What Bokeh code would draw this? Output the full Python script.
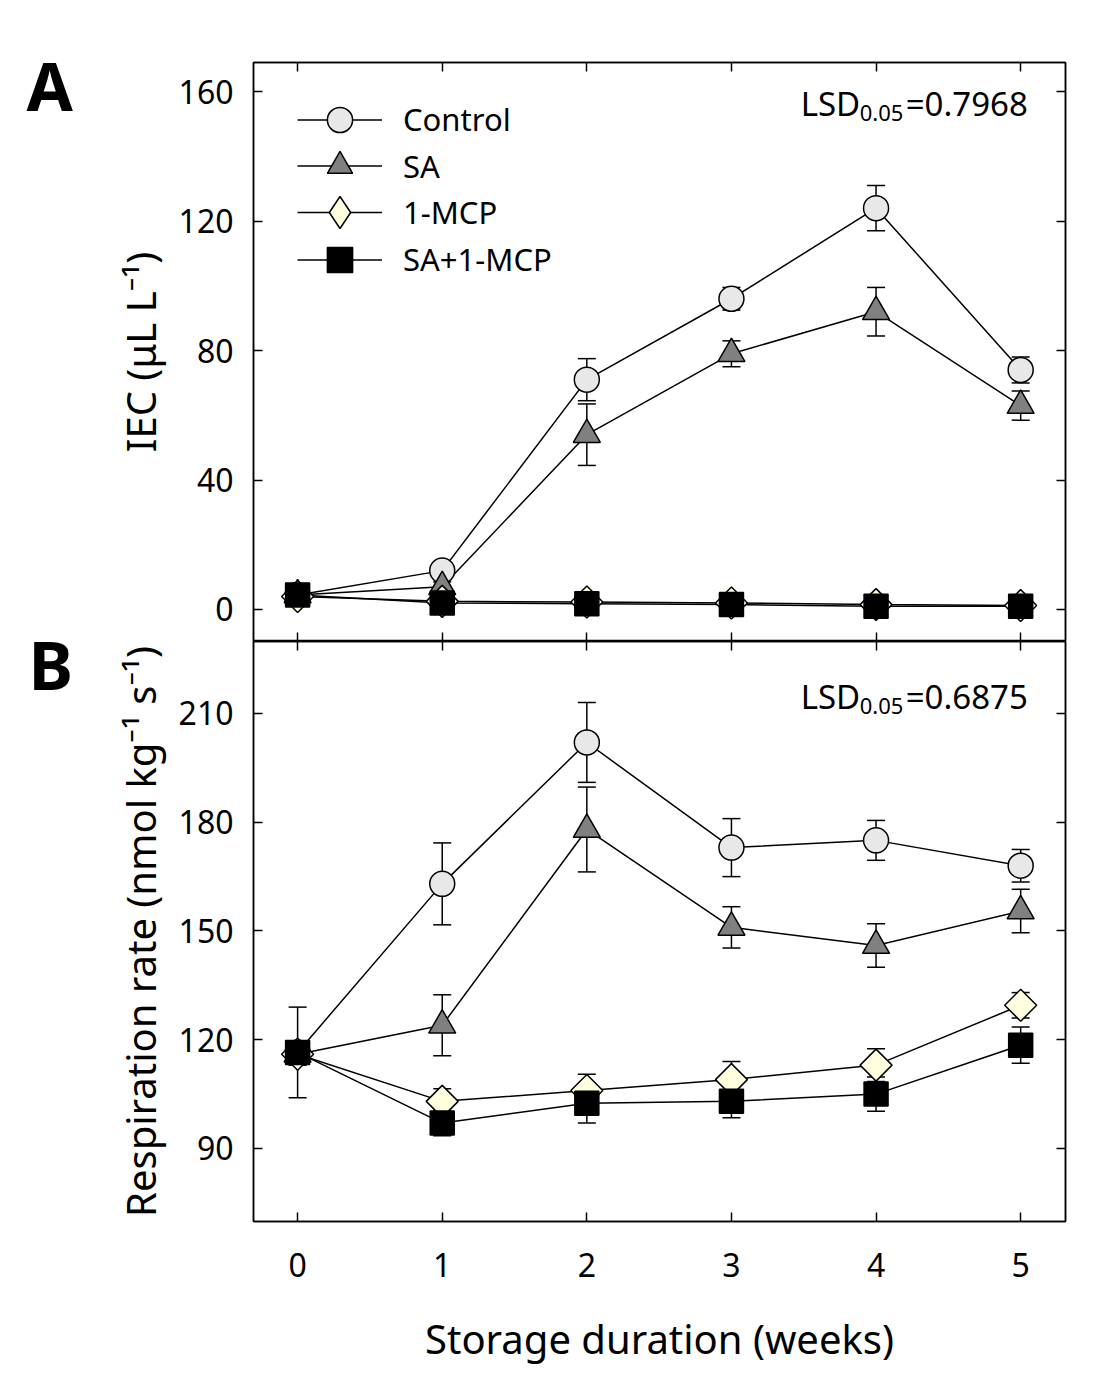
import math
import numpy as np
from bokeh.plotting import figure
from bokeh.models import (ColumnDataSource, Whisker, TeeHead, LinearAxis, FixedTicker,
                          Range1d, Legend, LegendItem, Label)
from bokeh.layouts import column, row
from bokeh.embed import file_html
from bokeh.resources import INLINE

# ---------------- data ----------------
weeks = [0, 1, 2, 3, 4, 5]
treatments = ["Control", "SA", "1-MCP", "SA+1-MCP"]

iec_ticks = [0, 40, 80, 120, 160]
resp_ticks = [90, 120, 150, 180, 210]

iec_control = [4.5, 12.0, 71.0, 96.0, 124.0, 74.0]
iec_control_err = [1.0, 2.0, 6.5, 3.5, 7.0, 4.0]
iec_sa = [4.5, 7.0, 54.0, 79.0, 92.0, 63.0]
iec_sa_err = [1.0, 1.5, 9.5, 4.0, 7.5, 4.5]
iec_mcp = [4.0, 2.5, 2.3, 2.0, 1.5, 1.2]
iec_mcp_err = [0.5, 0.5, 0.5, 0.5, 0.5, 0.5]
iec_samcp = [4.5, 2.0, 1.8, 1.5, 1.0, 1.0]
iec_samcp_err = [0.5, 0.5, 0.5, 0.5, 0.5, 0.5]

resp_control = [116.5, 163.0, 202.0, 173.0, 175.0, 168.0]
resp_control_err = [12.5, 11.3, 11.0, 8.0, 5.5, 4.5]
resp_sa = [116.0, 124.0, 178.0, 151.0, 146.0, 155.5]
resp_sa_err = [3.0, 8.4, 11.7, 5.7, 6.0, 6.0]
resp_mcp = [116.0, 103.0, 106.0, 109.0, 113.0, 129.5]
resp_mcp_err = [3.0, 3.5, 4.5, 5.0, 4.5, 3.5]
resp_samcp = [116.5, 97.0, 102.5, 103.0, 105.0, 118.5]
resp_samcp_err = [3.0, 3.5, 5.5, 4.5, 4.7, 5.0]

lsd_a = "=0.7968"
lsd_b = "=0.6875"

# ---------------- styling ----------------
FONT = "Noto Sans"
XR = (-0.305, 5.31)
styles = [
    dict(marker="circle", size=25, fill_color="#e8e8e8", angle=0.0),
    dict(marker="triangle", size=27, fill_color="#808080", angle=0.0),
    dict(marker="square", size=22.6, fill_color="#ffffe0", angle=math.pi / 4),
    dict(marker="square", size=24, fill_color="#000000", angle=0.0),
]


def style_axis(ax, ticks, labels):
    ax.ticker = FixedTicker(ticks=ticks)
    ax.major_tick_in = 9
    ax.major_tick_out = 0
    ax.minor_tick_in = 0
    ax.minor_tick_out = 0
    ax.axis_line_width = 1.5
    ax.axis_line_color = "black"
    ax.major_tick_line_width = 1.5
    ax.major_tick_line_color = "black"
    if labels:
        ax.major_label_text_font = FONT
        ax.major_label_text_font_size = "32px"
        ax.major_label_text_color = "black"
        ax.axis_label_text_font = FONT
        ax.axis_label_text_font_size = "40px"
        ax.axis_label_text_font_style = "normal"
        ax.axis_label_text_color = "black"
    else:
        ax.major_label_text_font_size = "0px"
        ax.major_label_standoff = 0
        ax.axis_label = None


def make_panel(yr, yticks, height, top, bottom, ylabel, show_x):
    p = figure(width=1005, height=height, x_range=Range1d(*XR), y_range=Range1d(*yr),
               output_backend="svg", toolbar_location=None,
               min_border_left=163, min_border_right=30,
               min_border_top=top, min_border_bottom=bottom)
    p.grid.visible = False
    p.outline_line_color = "black"
    p.outline_line_width = 1.5

    yl = p.yaxis[0]
    style_axis(yl, yticks, True)
    yl.axis_label = ylabel
    yl.major_label_standoff = 20
    yl.axis_label_standoff = 8

    xb = p.xaxis[0]
    style_axis(xb, weeks, show_x)
    if show_x:
        xb.axis_label = "Storage duration (weeks)"
        xb.major_label_standoff = 31
        xb.axis_label_standoff = 31

    yr_ax = LinearAxis()
    style_axis(yr_ax, yticks, False)
    p.add_layout(yr_ax, "right")
    xt = LinearAxis()
    style_axis(xt, weeks, False)
    p.add_layout(xt, "above")
    return p


def letter_fig(height, frame_h, letter, x, y):
    # the frame of this figure is aligned with the frame of its neighbouring panel
    f = figure(width=90, height=height, x_range=Range1d(0, 90), y_range=Range1d(0, frame_h),
               output_backend="svg", toolbar_location=None,
               x_axis_location=None, y_axis_location=None,
               min_border=0, outline_line_color=None)
    f.grid.visible = False
    f.add_layout(Label(x=x, y=y, text=letter, text_font=FONT, text_font_size="67px",
                       text_font_style="bold", text_baseline="middle", text_align="left",
                       text_color="black"))
    return f


def draw_series(p, series):
    lines, dots = [], []
    for (vals, errs), st in zip(series, styles):
        src = ColumnDataSource(data=dict(
            x=weeks, y=vals,
            upper=[v + e for v, e in zip(vals, errs)],
            lower=[v - e for v, e in zip(vals, errs)]))
        w = Whisker(source=src, base="x", upper="upper", lower="lower", dimension="height",
                    line_width=1.5, line_color="black",
                    upper_head=TeeHead(size=18, line_width=1.5, line_color="black"),
                    lower_head=TeeHead(size=18, line_width=1.5, line_color="black"))
        p.add_layout(w)
        lines.append(p.line("x", "y", source=src, line_color="black", line_width=1.5))
        dots.append((src, st))
    rs = []
    for src, st in dots:
        rs.append(p.scatter("x", "y", source=src, marker=st["marker"], size=st["size"],
                            angle=st["angle"], fill_color=st["fill_color"],
                            line_color="black", line_width=1.5))
    return lines, rs


def add_lsd(p, y_main, y_sub, txt):
    p.add_layout(Label(x=3.479, y=y_main, text="LSD", text_font=FONT, text_font_size="33px",
                       text_baseline="middle", text_align="left", text_color="black"))
    p.add_layout(Label(x=3.887, y=y_sub, text="0.05", text_font=FONT, text_font_size="22px",
                       text_baseline="middle", text_align="left", text_color="black"))
    p.add_layout(Label(x=4.205, y=y_main, text=txt, text_font=FONT, text_font_size="33px",
                       text_baseline="middle", text_align="left", text_color="black"))


# ---------------- panel A ----------------
pa = make_panel((-9.9, 169.0), iec_ticks, 641, 62, 0, "IEC (\u03bcL L\u207b\u00b9)", False)
la, ra = draw_series(pa, [(iec_control, iec_control_err), (iec_sa, iec_sa_err),
                          (iec_mcp, iec_mcp_err), (iec_samcp, iec_samcp_err)])

# legend proxy for the diamond key (legend keys are drawn unrotated)
proxy_src = ColumnDataSource(data=dict(x=np.array([np.nan]), y=np.array([np.nan])))
diamond_key = pa.scatter("x", "y", source=proxy_src, marker="diamond", size=30,
                         fill_color=styles[2]["fill_color"], line_color="black", line_width=1.5)
key_renderers = [ra[0], ra[1], diamond_key, ra[3]]
key_heights = [63, 63, 80, 63]
key_centers = [119.0, 165.7, 212.3, 259.0]   # px below top of panel A
frame_bottom_px = 641.0
for t, l, r, h, c in zip(treatments, la, key_renderers, key_heights, key_centers):
    lg = Legend(items=[LegendItem(label=t, renderers=[l, r])],
                location=(44, frame_bottom_px - c - h / 2.0),
                glyph_width=85, glyph_height=h, spacing=0,
                padding=0, margin=0, label_standoff=21,
                label_text_font=FONT, label_text_font_size="31px", label_text_color="black",
                border_line_color=None, background_fill_alpha=0)
    pa.add_layout(lg)

add_lsd(pa, 156.3, 153.5, lsd_a)

# ---------------- panel B ----------------
pb = make_panel((69.86, 229.86), resp_ticks, 740, 0, 160,
                "Respiration rate (nmol kg\u207b\u00b9 s\u207b\u00b9)", True)
draw_series(pb, [(resp_control, resp_control_err), (resp_sa, resp_sa_err),
                 (resp_mcp, resp_mcp_err), (resp_samcp, resp_samcp_err)])
add_lsd(pb, 214.7, 212.2, lsd_b)

fa = letter_fig(641, 579, "A", 26, 579 - 22)
fb = letter_fig(740, 580, "B", 28, 580 - 22)

layout = column(row(fa, pa, spacing=0), row(fb, pb, spacing=0), spacing=0)
open("out.html", "w").write(file_html(layout, INLINE))
